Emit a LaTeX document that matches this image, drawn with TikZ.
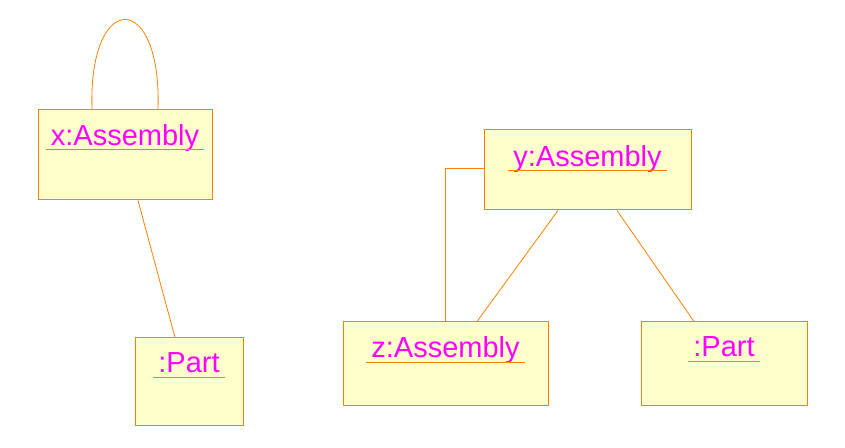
\documentclass[tikz,border=0pt]{standalone}
\usepackage{fontspec}
\setmainfont{Liberation Sans}
\definecolor{umlorange}{HTML}{FF8000}
\definecolor{umlfill}{HTML}{FFFFCC}
\definecolor{umltext}{HTML}{FF00FF}
\begin{document}
\begin{tikzpicture}[x=1pt,y=1pt,
    object/.style={draw=umlorange,fill=umlfill,line width=1pt,inner sep=0pt},
    objname/.style={text=umltext,font=\fontsize{29}{34}\selectfont,inner xsep=5pt,inner ysep=0pt,anchor=base},
    uline/.style={draw=umlorange,line width=1pt},
    link/.style={draw=umlorange,line width=0.8pt}]
      \useasboundingbox (0,0) rectangle (845,447);
      \node[object,minimum width=174pt,minimum height=90pt] (xa) at (125,292) {};
      \node[object,minimum width=108pt,minimum height=87pt] (pl) at (189,65.5) {};
      \node[object,minimum width=207pt,minimum height=80pt] (ya) at (587.5,277) {};
      \node[object,minimum width=205pt,minimum height=83pt] (za) at (445.5,83.5) {};
      \node[object,minimum width=166pt,minimum height=83pt] (pr) at (724,83.5) {};
      % object names
      \node[objname] (xalab) at ([yshift=-36pt]xa.north) {x:Assembly};
      \node[objname] (pllab) at ([yshift=-35pt]pl.north) {:Part};
      \node[objname] (yalab) at ([yshift=-37pt]ya.north) {y:Assembly};
      \node[objname] (zalab) at ([yshift=-36pt]za.north) {z:Assembly};
      \node[objname] (prlab) at ([yshift=-35pt]pr.north) {:Part};
      \foreach \n in {xalab,pllab,yalab,zalab,prlab}
        \draw[uline] ([yshift=-4.5pt]\n.base west) -- ([yshift=-4.5pt]\n.base east);
      % links
      \begin{scope}[link]
        \draw ([xshift=-33pt]xa.north) .. controls +(-4,120) and +(4,120) .. ([xshift=33pt]xa.north);
        \draw ([xshift=13pt]xa.south) -- ([xshift=-14pt]pl.north);
        \draw ([yshift=2pt]ya.west) -| (za.north);
        \draw ([xshift=-29.5pt]ya.south) -- ([xshift=31.5pt]za.north);
        \draw ([xshift=29.5pt]ya.south) -- ([xshift=-30pt]pr.north);
      \end{scope}
    \end{tikzpicture}
\end{document}
